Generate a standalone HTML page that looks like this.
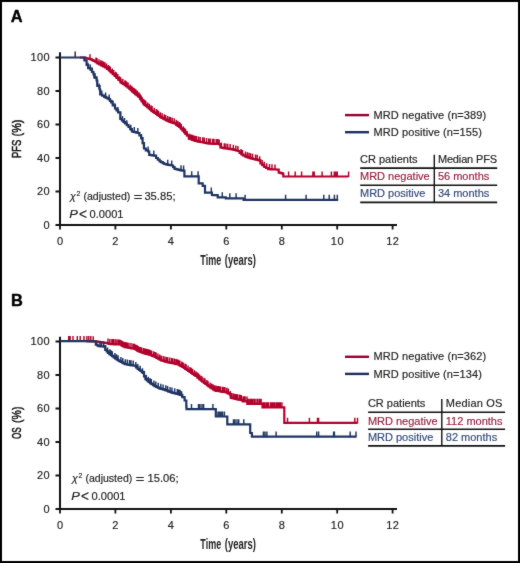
<!DOCTYPE html><html><head><meta charset="utf-8"><style>
html,body{margin:0;padding:0;background:#fff;}
svg{display:block;}
.t{font-family:"Liberation Sans",sans-serif;fill:#222;stroke:#222;stroke-width:0.16px;}
svg{font-size:11px;}
.b{font-family:"Liberation Sans",sans-serif;font-weight:bold;fill:#000;}
.c{font-family:"Liberation Sans",sans-serif;font-weight:bold;fill:#222;}
.d{font-family:"Liberation Sans",sans-serif;fill:#111;stroke:#111;stroke-width:0.5;}
</style></head><body>
<svg width="520" height="563" viewBox="0 0 520 563">
<defs><filter id="soft" x="0" y="0" width="520" height="563" filterUnits="userSpaceOnUse" color-interpolation-filters="sRGB"><feConvolveMatrix order="3" kernelMatrix="1 2 1 2 28 2 1 2 1" divisor="40" edgeMode="duplicate"/></filter></defs>
<g filter="url(#soft)">
<rect x="1" y="1" width="518" height="561" fill="#fff" stroke="#000" stroke-width="2"/>

<text x="10.7" y="22.4" class="b" font-size="16.4" stroke="#000" stroke-width="0.4">A</text>
<text x="10.9" y="305.6" class="b" font-size="16.4" stroke="#000" stroke-width="0.4">B</text>
<path d="M60 226.0V52.3" stroke="#111" stroke-width="2" fill="none"/><path d="M56 225.0H397" stroke="#111" stroke-width="2" fill="none"/><path d="M55.5 225.0H60M55.5 191.5H60M55.5 158.0H60M55.5 124.5H60M55.5 91.0H60M55.5 57.5H60M60.0 225.0V229.5M115.4 225.0V229.5M170.9 225.0V229.5M226.3 225.0V229.5M281.8 225.0V229.5M337.2 225.0V229.5M392.6 225.0V229.5" stroke="#111" stroke-width="1.8" fill="none"/><text x="50.1" y="228.8" text-anchor="end" class="t" letter-spacing="0.45">0</text><text x="50.1" y="195.3" text-anchor="end" class="t" letter-spacing="0.45">20</text><text x="50.1" y="161.8" text-anchor="end" class="t" letter-spacing="0.45">40</text><text x="50.1" y="128.3" text-anchor="end" class="t" letter-spacing="0.45">60</text><text x="50.1" y="94.8" text-anchor="end" class="t" letter-spacing="0.45">80</text><text x="50.1" y="61.3" text-anchor="end" class="t" letter-spacing="0.45">100</text><text x="60.2" y="244.6" text-anchor="middle" class="t" letter-spacing="0.45">0</text><text x="115.6" y="244.6" text-anchor="middle" class="t" letter-spacing="0.45">2</text><text x="171.1" y="244.6" text-anchor="middle" class="t" letter-spacing="0.45">4</text><text x="226.5" y="244.6" text-anchor="middle" class="t" letter-spacing="0.45">6</text><text x="282.0" y="244.6" text-anchor="middle" class="t" letter-spacing="0.45">8</text><text x="337.4" y="244.6" text-anchor="middle" class="t" letter-spacing="0.45">10</text><text x="392.8" y="244.6" text-anchor="middle" class="t" letter-spacing="0.45">12</text>
<path d="M80.0 57.5L83.6 57.5L84.8 57.5L84.8 57.9L86.0 57.9L86.0 58.3L87.5 58.3L87.5 58.7L89.0 58.7L89.0 59.0L90.5 59.0L90.5 59.4L92.0 59.4L92.0 60.2L93.5 60.2L93.5 61.0L95.5 61.0L95.5 62.2L97.4 62.2L97.4 63.4L99.3 63.4L99.3 64.5L101.2 64.5L101.2 65.5L103.2 65.5L103.2 66.5L105.1 66.5L105.1 67.4L107.0 67.4L107.0 69.0L108.9 69.0L108.9 70.5L110.8 70.5L110.8 72.3L112.8 72.3L112.8 74.2L114.7 74.2L114.7 76.0L116.6 76.0L116.6 77.8L118.5 77.8L118.5 80.0L120.5 80.0L120.5 82.3L121.8 82.3L121.8 83.2L123.0 83.2L123.0 84.0L124.6 84.0L124.6 85.1L126.1 85.1L126.1 86.2L127.7 86.2L127.7 87.3L129.2 87.3L129.2 88.7L130.8 88.7L130.8 90.2L132.3 90.2L132.3 91.6L133.8 91.6L133.8 93.0L135.2 93.0L135.2 94.1L136.7 94.1L136.7 95.2L138.1 95.2L138.1 96.3L140.0 96.3L140.0 98.8L141.6 98.8L141.6 101.2L143.1 101.2L143.1 103.5L144.4 103.5L144.4 104.8L145.8 104.8L145.8 106.0L147.2 106.0L147.2 107.2L148.7 107.2L148.7 108.3L150.1 108.3L150.1 109.5L151.5 109.5L151.5 110.8L152.9 110.8L152.9 111.8L154.4 111.8L154.4 112.9L155.9 112.9L155.9 113.8L157.3 113.8L157.3 114.8L158.8 114.8L158.8 116.0L160.2 116.0L160.2 117.2L161.6 117.2L161.6 118.0L163.1 118.0L163.1 118.7L164.6 118.7L164.6 119.5L166.0 119.5L166.0 120.3L167.8 120.3L167.8 121.1L169.6 121.1L169.6 121.9L171.2 121.9L171.2 122.4L172.8 122.4L172.8 123.0L174.4 123.0L174.4 123.5L176.0 123.5L176.0 124.6L177.6 124.6L177.6 125.8L179.2 125.8L179.2 126.9L180.8 126.9L180.8 128.6L182.4 128.6L182.4 130.4L184.0 130.4L184.0 132.1L185.4 132.1L185.4 133.8L186.9 133.8L186.9 135.5L188.8 135.5L188.8 138.6L190.4 138.6L190.4 139.2L192.1 139.2L192.1 139.9L193.7 139.9L193.7 140.5L195.3 140.5L195.3 140.9L196.9 140.9L196.9 141.3L198.5 141.3L198.5 141.7L200.1 141.7L200.1 142.0L201.7 142.0L201.7 142.2L203.3 142.2L203.3 142.5L204.7 142.5L204.7 142.8L206.2 142.8L206.2 143.1L207.6 143.1L207.6 143.3L209.0 143.3L209.0 143.6L210.9 143.6L210.9 143.7L212.7 143.7L212.7 143.8L214.6 143.8L214.6 143.9L216.1 143.9L216.1 144.0L217.5 144.0L217.5 144.0L219.0 144.0L219.0 144.1L220.4 144.1L220.4 147.5L222.3 147.5L222.3 147.9L224.2 147.9L224.2 148.3L225.7 148.3L225.7 148.5L227.3 148.5L227.3 148.7L228.8 148.7L228.8 148.9L230.4 148.9L230.4 149.1L231.9 149.1L231.9 149.3L233.8 149.3L233.8 150.0L235.8 150.0L235.8 150.5L237.7 150.5L237.7 151.0L239.6 151.0L239.6 152.8L241.5 152.8L241.5 154.5L243.4 154.5L243.4 155.6L245.4 155.6L245.4 156.6L246.9 156.6L246.9 157.1L248.3 157.1L248.3 157.7L249.8 157.7L249.8 158.2L251.4 158.2L251.4 158.6L253.0 158.6L253.0 159.0L254.6 159.0L254.6 159.4L256.2 159.4L256.2 159.7L257.8 159.7L257.8 160.1L259.4 160.1L259.4 160.4L260.4 160.4L260.4 163.5L262.3 163.5L262.3 165.2L264.2 165.2L264.2 166.8L266.1 166.8L266.1 168.0L268.1 168.0L268.1 169.2L269.5 169.2L269.5 169.2L271.0 169.2L271.0 169.3L272.4 169.3L272.4 169.3L273.8 169.3L273.8 169.4L275.4 169.4L275.4 169.5L277.1 169.5L277.1 169.6L278.7 169.6L278.7 169.7L278.7 172.6L280.6 172.6L280.6 173.1L282.5 173.1L282.5 173.6L283.3 173.6L283.3 173.8L283.3 176.5L348.6 176.5" fill="none" stroke="#b2002c" stroke-width="2.2" stroke-linejoin="miter" stroke-linecap="butt"/><path d="M90.0 59.9V54.2M96.0 63.1V57.4M97.0 63.7V58.0M99.0 64.9V59.2M100.8 65.9V60.2M102.0 66.5V60.8M103.5 67.2V61.5M104.9 67.9V62.2M106.6 69.3V63.6M108.5 70.8V65.1M109.5 71.6V65.9M110.3 72.4V66.7M112.3 74.3V68.6M113.7 75.6V69.9M115.5 77.4V71.7M116.4 78.2V72.5M117.8 79.8V74.1M119.6 81.8V76.2M120.7 83.0V77.3M122.8 84.5V78.8M124.9 85.9V80.2M125.7 86.5V80.8M126.6 87.1V81.4M128.1 88.3V82.6M130.2 90.3V84.6M131.6 91.5V85.8M132.7 92.6V86.9M134.1 93.8V88.1M134.9 94.5V88.8M136.0 95.3V89.6M137.4 96.4V90.7M138.9 98.0V92.3M140.1 99.5V93.8M141.2 101.2V95.5M142.3 102.9V97.2M143.7 104.7V99.0M144.9 105.8V100.1M145.8 106.6V100.9M147.7 108.1V102.4M149.3 109.5V103.8M151.0 111.0V105.3M152.1 111.8V106.1M154.3 113.4V107.7M156.3 114.7V109.0M157.2 115.4V109.7M158.5 116.4V110.7M160.3 117.9V112.2M162.1 118.8V113.1M164.2 119.9V114.2M165.6 120.7V115.0M167.6 121.6V115.9M169.3 122.4V116.7M170.5 122.8V117.1M172.2 123.4V117.7M174.2 124.0V118.3M176.2 125.4V119.7M177.7 126.4V120.7M179.3 127.6V121.9M180.2 128.5V122.8M181.3 129.8V124.1M183.2 131.9V126.2M184.6 133.4V127.7M185.6 134.6V128.9M187.2 136.6V130.9M189.0 139.3V133.6M190.7 140.0V134.3M192.1 140.5V134.8M193.5 141.0V135.3M195.0 141.4V135.7M196.5 141.8V136.1M198.5 142.3V136.6M200.2 142.6V136.9M202.7 143.0V137.3M204.3 143.3V137.6M206.6 143.7V138.0M208.7 144.1V138.4M210.2 144.3V138.6M212.5 144.4V138.7M214.0 144.5V138.8M216.2 144.6V138.9M217.7 144.6V138.9M219.2 145.3V139.6M221.4 148.3V142.6M224.3 148.9V143.2M225.9 149.1V143.4M227.7 149.4V143.7M230.2 149.7V144.0M233.3 150.4V144.7M235.8 151.1V145.4M237.9 151.8V146.1M241.1 154.7V149.0M242.5 155.7V150.0M245.5 157.2V151.5M247.4 157.9V152.2M249.1 158.5V152.8M250.7 159.0V153.3M252.6 159.5V153.8M255.5 160.2V154.5M257.2 160.5V154.8M259.7 161.9V156.2M262.2 165.7V160.0M264.3 167.5V161.8M266.7 168.9V163.2M269.5 169.8V164.1M272.0 169.9V164.2M275.0 170.1V164.4M288.6 177.1V171.4M295.2 177.1V171.4M301.6 177.1V171.4M312.9 177.1V171.4M314.2 177.1V171.4M322.1 177.1V171.4M331.4 177.1V171.4M334.3 177.1V171.4M335.8 177.1V171.4M337.3 177.1V171.4M348.6 177.1V171.4" fill="none" stroke="#b2002c" stroke-width="1.45"/>
<path d="M60.0 57.5L83.6 57.5L84.4 57.5L84.4 60.5L86.6 60.5L86.6 65.0L88.2 65.0L88.2 68.2L90.5 68.2L90.5 69.7L92.0 69.7L92.0 72.0L93.5 72.0L93.5 74.3L94.3 74.3L94.3 77.4L96.6 77.4L96.6 80.5L97.3 80.5L97.3 86.0L99.6 86.0L99.6 89.5L100.2 89.5L100.2 94.5L102.2 94.5L102.2 95.7L104.2 95.7L104.2 96.9L105.7 96.9L105.7 97.7L107.3 97.7L107.3 98.4L108.8 98.4L108.8 99.2L110.0 99.2L110.0 100.8L111.2 100.8L111.2 102.3L112.7 102.3L112.7 105.4L115.0 105.4L115.0 108.5L116.5 108.5L116.5 110.4L118.1 110.4L118.1 112.3L120.4 112.3L120.4 119.0L121.9 119.0L121.9 120.5L123.5 120.5L123.5 122.0L125.0 122.0L125.0 123.5L126.8 123.5L126.8 125.2L128.5 125.2L128.5 127.0L130.2 127.0L130.2 129.2L131.9 129.2L131.9 131.5L133.3 131.5L133.3 131.9L134.8 131.9L134.8 132.2L136.2 132.2L136.2 132.6L137.7 132.6L137.7 133.0L139.4 133.0L139.4 135.5L141.1 135.5L141.1 138.0L142.6 138.0L142.6 143.2L144.0 143.2L144.0 148.5L145.8 148.5L145.8 150.3L148.1 150.3L148.1 151.5L149.2 151.5L149.2 154.8L150.7 154.8L150.7 155.1L152.3 155.1L152.3 155.3L153.8 155.3L153.8 155.6L156.1 155.6L156.1 158.0L157.8 158.0L157.8 159.7L159.6 159.7L159.6 161.3L161.1 161.3L161.1 162.2L162.7 162.2L162.7 163.1L164.2 163.1L164.2 164.0L165.9 164.0L165.9 164.4L167.7 164.4L167.7 164.9L169.7 164.9L169.7 165.2L171.7 165.2L171.7 165.5L173.1 165.5L173.1 167.2L174.6 167.2L174.6 168.8L176.1 168.8L176.1 169.2L177.5 169.2L177.5 169.6L178.9 169.6L178.9 169.9L180.4 169.9L180.4 170.3L182.4 170.3L182.4 170.6L184.4 170.6L184.4 170.8L184.4 176.3L198.7 176.3L198.7 183.3L200.4 183.3L200.4 183.4L202.1 183.4L202.1 183.5L202.7 183.5L202.7 185.9L205.0 185.9L205.0 192.7L211.5 192.7L211.9 192.7L211.9 195.0L213.3 195.0L213.3 195.1L214.8 195.1L214.8 195.2L216.2 195.2L216.2 195.2L217.7 195.2L217.7 195.3L217.7 197.3L225.5 197.3L225.8 197.3L225.8 198.3L243.3 198.3L243.6 198.3L243.6 199.8L338.2 199.8" fill="none" stroke="#1f3463" stroke-width="2.2" stroke-linejoin="miter" stroke-linecap="butt"/><path d="M88.0 68.4V62.7M90.3 70.2V64.5M92.3 73.1V67.4M95.0 79.0V73.3M97.2 85.5V79.8M99.1 89.3V83.6M101.8 96.1V90.4M105.6 98.2V92.5M109.2 100.3V94.6M112.7 105.9V100.2M114.9 109.0V103.3M117.9 112.7V107.0M120.3 119.4V113.7M122.5 121.7V116.0M124.5 123.7V118.0M126.8 125.9V120.2M130.7 130.5V124.8M134.3 132.7V127.0M137.8 133.8V128.1M141.4 139.7V134.0M143.6 147.8V142.1M148.1 152.1V146.4M153.8 156.2V150.5M167.7 165.5V159.8M171.7 166.1V160.4M181.0 171.0V165.3M183.6 171.3V165.6M191.7 176.9V171.2M198.1 176.9V171.2M211.3 193.3V187.6M222.3 197.9V192.2M229.8 198.9V193.2M236.1 198.9V193.2M245.1 200.4V194.7M285.6 200.4V194.7M306.1 200.4V194.7M323.8 200.4V194.7M329.2 200.4V194.7M334.4 200.4V194.7M337.3 200.4V194.7" fill="none" stroke="#1f3463" stroke-width="1.45"/>
<path d="M75.2 57.5V51.6" stroke="#4a1f3c" stroke-width="1.5"/>
<g transform="translate(21.3,157.7) rotate(-90)"><text x="-0.4" y="0" class="d" font-size="13.6" textLength="18.5" lengthAdjust="spacingAndGlyphs">PFS</text><text x="21.3" y="0" class="d" font-size="13.6" textLength="16.8" lengthAdjust="spacingAndGlyphs">(%)</text></g>
<text x="200.3" y="264.5" class="c" font-size="14.8" textLength="20.9" lengthAdjust="spacingAndGlyphs">Time</text>
<text x="224.8" y="264.5" class="c" font-size="14.8" textLength="31.2" lengthAdjust="spacingAndGlyphs">(years)</text>
<text x="70.0" y="200.3" class="t" font-style="italic" font-size="10.6">&#967;</text>
<text x="76.4" y="195.7" class="t" font-size="6.9">2</text>
<text x="83.4" y="200.3" class="t" textLength="46.9" lengthAdjust="spacingAndGlyphs">(adjusted)</text>
<text x="133.6" y="201.1" class="t" font-size="13" textLength="9.0" lengthAdjust="spacingAndGlyphs">=</text>
<text x="144.4" y="200.3" class="t" font-size="11.2">35.85;</text>
<text x="69.3" y="218.0" class="t" font-style="italic" font-size="11.2" textLength="8.6" lengthAdjust="spacingAndGlyphs">P</text>
<text x="78.9" y="218.8" class="t" font-size="14" textLength="8.0" lengthAdjust="spacingAndGlyphs">&lt;</text>
<text x="89.6" y="218.0" class="t" font-size="11.1">0.0001</text>
<path d="M345 115.1H369" stroke="#980030" stroke-width="2.4"/>
<path d="M345 132.2H369" stroke="#1d2d5c" stroke-width="2.4"/>
<text x="373.6" y="118.5" class="t" letter-spacing="0.08">MRD negative (n=389)</text>
<text x="373.6" y="135.9" class="t" letter-spacing="0.08">MRD positive (n=155)</text>
<path d="M360.2 168.1H497.2M360.2 185.3H497.2M360.2 202.4H497.2" stroke="#111" stroke-width="1.6"/>
<path d="M434.3 154.8V202.4" stroke="#111" stroke-width="1.4"/>
<text x="360.0" y="163.2" class="t">CR patients</text>
<text x="437.9" y="163.2" class="t" letter-spacing="-0.15">Median PFS</text>
<text x="360.0" y="180.3" class="t" style="fill:#9a2040;stroke:#9a2040">MRD negative</text>
<text x="437.9" y="180.3" class="t" style="fill:#9a2040;stroke:#9a2040">56 months</text>
<text x="360.0" y="197.2" class="t" style="fill:#34497a;stroke:#34497a">MRD positive</text>
<text x="437.9" y="197.2" class="t" style="fill:#34497a;stroke:#34497a">34 months</text>
<path d="M60 510.0V336.7" stroke="#111" stroke-width="2" fill="none"/><path d="M56 509.0H397" stroke="#111" stroke-width="2" fill="none"/><path d="M55.5 509.0H60M55.5 475.5H60M55.5 442.0H60M55.5 408.5H60M55.5 375.0H60M55.5 341.5H60M60.0 509.0V513.5M115.4 509.0V513.5M170.9 509.0V513.5M226.3 509.0V513.5M281.8 509.0V513.5M337.2 509.0V513.5M392.6 509.0V513.5" stroke="#111" stroke-width="1.8" fill="none"/><text x="50.1" y="512.8" text-anchor="end" class="t" letter-spacing="0.45">0</text><text x="50.1" y="479.3" text-anchor="end" class="t" letter-spacing="0.45">20</text><text x="50.1" y="445.8" text-anchor="end" class="t" letter-spacing="0.45">40</text><text x="50.1" y="412.3" text-anchor="end" class="t" letter-spacing="0.45">60</text><text x="50.1" y="378.8" text-anchor="end" class="t" letter-spacing="0.45">80</text><text x="50.1" y="345.3" text-anchor="end" class="t" letter-spacing="0.45">100</text><text x="60.2" y="528.6" text-anchor="middle" class="t" letter-spacing="0.45">0</text><text x="115.6" y="528.6" text-anchor="middle" class="t" letter-spacing="0.45">2</text><text x="171.1" y="528.6" text-anchor="middle" class="t" letter-spacing="0.45">4</text><text x="226.5" y="528.6" text-anchor="middle" class="t" letter-spacing="0.45">6</text><text x="282.0" y="528.6" text-anchor="middle" class="t" letter-spacing="0.45">8</text><text x="337.4" y="528.6" text-anchor="middle" class="t" letter-spacing="0.45">10</text><text x="392.8" y="528.6" text-anchor="middle" class="t" letter-spacing="0.45">12</text>
<path d="M88.0 341.2L89.4 341.2L89.4 341.2L90.8 341.2L90.8 341.2L92.3 341.2L92.3 341.3L93.7 341.3L93.7 341.3L95.3 341.3L95.3 341.4L96.8 341.4L96.8 341.6L98.3 341.6L98.3 341.9L99.8 341.9L99.8 342.1L101.4 342.1L101.4 342.3L102.9 342.3L102.9 342.5L104.4 342.5L104.4 342.8L105.9 342.8L105.9 343.0L107.5 343.0L107.5 343.5L109.0 343.5L109.0 344.0L110.7 344.0L110.7 344.1L112.3 344.1L112.3 344.2L114.0 344.2L114.0 344.3L115.7 344.3L115.7 344.3L117.4 344.3L117.4 344.4L119.0 344.4L119.0 344.5L120.7 344.5L120.7 344.6L121.7 344.6L121.7 345.6L123.3 345.6L123.3 346.4L124.9 346.4L124.9 347.2L126.5 347.2L126.5 347.5L128.1 347.5L128.1 347.7L129.7 347.7L129.7 348.0L131.2 348.0L131.2 348.3L132.8 348.3L132.8 348.5L134.4 348.5L134.4 348.8L135.8 348.8L135.8 349.7L137.3 349.7L137.3 350.6L138.7 350.6L138.7 351.5L140.3 351.5L140.3 352.0L141.8 352.0L141.8 352.6L143.4 352.6L143.4 353.1L145.0 353.1L145.0 353.6L146.4 353.6L146.4 353.9L147.8 353.9L147.8 354.3L149.2 354.3L149.2 354.6L150.6 354.6L150.6 355.2L152.1 355.2L152.1 355.8L153.6 355.8L153.6 356.4L155.0 356.4L155.0 357.0L156.4 357.0L156.4 357.8L157.9 357.8L157.9 358.6L159.4 358.6L159.4 359.5L160.8 359.5L160.8 360.3L162.2 360.3L162.2 360.7L163.7 360.7L163.7 361.1L165.1 361.1L165.1 361.6L166.5 361.6L166.5 362.0L167.9 362.0L167.9 362.3L169.4 362.3L169.4 362.6L170.9 362.6L170.9 362.9L172.3 362.9L172.3 363.2L173.8 363.2L173.8 363.5L175.2 363.5L175.2 363.9L176.7 363.9L176.7 364.2L178.1 364.2L178.1 364.5L179.5 364.5L179.5 365.3L180.9 365.3L180.9 366.1L182.4 366.1L182.4 367.0L183.8 367.0L183.8 367.8L185.2 367.8L185.2 368.8L186.7 368.8L186.7 369.8L188.2 369.8L188.2 370.8L189.6 370.8L189.6 371.8L191.1 371.8L191.1 372.8L192.5 372.8L192.5 373.9L193.9 373.9L193.9 374.9L195.4 374.9L195.4 375.9L197.4 375.9L197.4 377.6L199.4 377.6L199.4 379.4L200.9 379.4L200.9 380.5L202.4 380.5L202.4 381.7L203.9 381.7L203.9 382.9L205.4 382.9L205.4 384.0L206.9 384.0L206.9 385.2L208.5 385.2L208.5 386.3L210.0 386.3L210.0 387.5L211.5 387.5L211.5 388.5L213.1 388.5L213.1 389.5L214.6 389.5L214.6 390.5L216.1 390.5L216.1 390.8L217.5 390.8L217.5 391.0L218.9 391.0L218.9 391.2L220.4 391.2L220.4 391.5L221.8 391.5L221.8 391.8L223.2 391.8L223.2 392.0L224.7 392.0L224.7 392.2L226.1 392.2L226.1 392.5L227.8 392.5L227.8 393.4L229.6 393.4L229.6 394.2L230.8 394.2L230.8 397.8L232.3 397.8L232.3 398.2L233.9 398.2L233.9 398.6L235.4 398.6L235.4 399.0L236.9 399.0L236.9 399.3L238.4 399.3L238.4 399.6L240.0 399.6L240.0 399.9L241.5 399.9L241.5 400.2L242.7 400.2L242.7 401.3L244.2 401.3L244.2 401.4L245.8 401.4L245.8 401.4L247.3 401.4L247.3 401.5L247.3 403.8L262.5 403.8L262.5 407.3L284.0 407.3L284.3 407.3L284.3 422.8L357.5 422.8" fill="none" stroke="#b2002c" stroke-width="2.2" stroke-linejoin="miter" stroke-linecap="butt"/><path d="M68.7 341.8V336.1M70.1 341.8V336.1M73.0 341.8V336.1M77.3 341.8V336.1M80.2 341.8V336.1M84.0 341.8V336.1M86.9 341.8V336.1M88.8 341.8V336.1M90.8 341.8V336.1M93.2 341.9V336.2M108.0 344.3V338.6M109.9 344.6V338.9M111.9 344.7V339.0M112.7 344.8V339.1M113.5 344.8V339.1M115.2 344.9V339.2M116.9 345.0V339.3M118.5 345.1V339.4M119.6 345.1V339.4M121.1 345.6V339.9M122.5 346.6V340.9M124.0 347.4V341.7M124.9 347.8V342.1M126.2 348.0V342.3M127.4 348.2V342.5M129.0 348.5V342.8M131.0 348.8V343.1M132.9 349.2V343.5M134.4 349.4V343.7M135.6 350.2V344.5M136.7 350.8V345.1M137.4 351.3V345.6M138.2 351.8V346.1M139.5 352.4V346.7M140.6 352.7V347.0M141.8 353.1V347.4M143.6 353.7V348.0M145.0 354.2V348.5M146.4 354.5V348.8M147.5 354.8V349.1M148.2 355.0V349.3M149.3 355.2V349.5M150.2 355.6V349.9M151.6 356.2V350.5M153.6 357.0V351.3M155.1 357.7V352.0M156.1 358.2V352.5M157.9 359.3V353.6M159.7 360.3V354.6M161.3 361.1V355.4M163.2 361.6V355.9M164.9 362.1V356.4M166.6 362.6V356.9M167.8 362.9V357.2M169.8 363.3V357.6M171.7 363.7V358.0M172.6 363.9V358.2M174.3 364.2V358.5M175.9 364.6V358.9M177.2 364.9V359.2M178.6 365.4V359.7M179.9 366.2V360.5M181.8 367.3V361.6M183.2 368.1V362.4M185.0 369.2V363.5M186.1 370.0V364.3M188.0 371.3V365.6M189.9 372.6V366.9M191.2 373.5V367.8M192.6 374.5V368.8M194.5 375.9V370.2M196.1 377.1V371.4M197.5 378.3V372.6M198.4 379.2V373.5M199.6 380.1V374.4M201.2 381.4V375.7M202.1 382.1V376.4M204.0 383.5V377.8M205.0 384.3V378.6M206.9 385.7V380.0M208.0 386.6V380.9M210.0 388.1V382.4M211.6 389.1V383.4M212.9 390.0V384.3M214.3 390.9V385.2M215.8 391.3V385.6M217.3 391.6V385.9M218.4 391.8V386.1M219.4 391.9V386.2M220.8 392.2V386.5M222.7 392.5V386.8M224.2 392.8V387.1M225.0 392.9V387.2M226.8 393.4V387.7M228.4 394.2V388.5M230.3 396.8V391.1M231.2 398.5V392.8M232.9 398.9V393.2M233.7 399.1V393.4M235.2 399.6V393.9M236.3 399.8V394.1M237.3 400.0V394.3M239.1 400.3V394.6M239.9 400.5V394.8M241.3 400.8V395.1M243.1 401.9V396.2M244.2 402.0V396.3M245.1 402.0V396.3M247.0 402.1V396.4M248.2 404.4V398.7M249.8 404.4V398.7M250.6 404.4V398.7M251.8 404.4V398.7M252.7 404.4V398.7M254.3 404.4V398.7M255.1 404.4V398.7M257.0 404.4V398.7M257.7 404.4V398.7M259.4 404.4V398.7M260.1 404.4V398.7M261.1 404.4V398.7M262.9 407.9V402.2M263.8 407.9V402.2M264.8 407.9V402.2M266.4 407.9V402.2M267.6 407.9V402.2M268.3 407.9V402.2M270.3 407.9V402.2M271.2 407.9V402.2M271.9 407.9V402.2M273.1 407.9V402.2M274.6 407.9V402.2M276.2 407.9V402.2M277.1 407.9V402.2M278.2 407.9V402.2M279.0 407.9V402.2M280.3 407.9V402.2M281.9 407.9V402.2M287.5 423.4V417.7M309.4 423.4V417.7M317.5 423.4V417.7M318.6 423.4V417.7M354.8 423.4V417.7M357.5 423.4V417.7" fill="none" stroke="#b2002c" stroke-width="1.45"/>
<path d="M60.0 341.1L61.6 341.1L61.6 341.1L63.2 341.1L63.2 341.1L64.7 341.1L64.7 341.1L66.3 341.1L66.3 341.1L67.9 341.1L67.9 341.1L69.5 341.1L69.5 341.2L71.1 341.2L71.1 341.2L72.7 341.2L72.7 341.2L74.2 341.2L74.2 341.2L75.8 341.2L75.8 341.2L77.4 341.2L77.4 341.2L79.0 341.2L79.0 341.2L80.6 341.2L80.6 341.2L82.1 341.2L82.1 341.2L83.7 341.2L83.7 341.2L85.3 341.2L85.3 341.2L86.9 341.2L86.9 341.3L88.5 341.3L88.5 341.3L90.1 341.3L90.1 341.3L91.6 341.3L91.6 341.3L93.2 341.3L93.2 341.3L94.8 341.3L94.8 341.3L95.8 341.3L95.8 344.6L97.2 344.6L97.2 345.4L98.5 345.4L98.5 346.2L100.3 346.2L100.3 346.4L102.0 346.4L102.0 346.5L103.8 346.5L103.8 346.7L105.3 346.7L105.3 349.9L106.7 349.9L106.7 351.4L108.0 351.4L108.0 353.0L109.4 353.0L109.4 354.1L110.8 354.1L110.8 355.1L112.2 355.1L112.2 356.2L113.6 356.2L113.6 357.3L115.1 357.3L115.1 358.3L116.5 358.3L116.5 359.4L117.9 359.4L117.9 360.3L119.3 360.3L119.3 361.1L120.7 361.1L120.7 362.0L122.1 362.0L122.1 362.7L123.5 362.7L123.5 363.5L124.9 363.5L124.9 364.2L126.7 364.2L126.7 364.5L128.4 364.5L128.4 364.9L130.2 364.9L130.2 365.2L131.6 365.2L131.6 365.4L133.0 365.4L133.0 365.5L134.4 365.5L134.4 365.7L136.0 365.7L136.0 367.3L137.6 367.3L137.6 368.9L139.0 368.9L139.0 370.0L140.5 370.0L140.5 371.0L141.9 371.0L141.9 372.1L144.0 372.1L144.0 376.3L145.4 376.3L145.4 379.2L146.9 379.2L146.9 380.5L148.5 380.5L148.5 381.9L150.0 381.9L150.0 383.2L151.5 383.2L151.5 384.2L153.1 384.2L153.1 385.1L154.6 385.1L154.6 386.1L156.1 386.1L156.1 386.9L157.7 386.9L157.7 387.6L159.2 387.6L159.2 388.4L160.6 388.4L160.6 388.8L162.1 388.8L162.1 389.2L163.6 389.2L163.6 389.7L165.0 389.7L165.0 390.1L166.5 390.1L166.5 390.7L168.1 390.7L168.1 391.3L169.6 391.3L169.6 391.9L171.1 391.9L171.1 392.3L172.5 392.3L172.5 392.8L173.9 392.8L173.9 393.2L175.4 393.2L175.4 393.6L176.9 393.6L176.9 394.0L178.5 394.0L178.5 394.4L180.0 394.4L180.0 394.8L182.3 394.8L182.3 397.1L184.6 397.1L184.6 400.5L186.3 400.5L186.3 406.3L186.5 406.3L186.5 409.1L215.5 409.1L215.8 409.1L215.8 416.5L227.3 416.5L227.3 424.4L249.8 424.4L250.2 424.4L250.2 433.0L251.9 433.0L251.9 433.2L251.9 436.7L356.3 436.7" fill="none" stroke="#1f3463" stroke-width="2.2" stroke-linejoin="miter" stroke-linecap="butt"/><path d="M100.0 346.9V341.2M101.6 347.1V341.4M103.7 347.3V341.6M105.4 350.7V345.0M107.6 353.2V347.5M109.8 355.0V349.3M111.1 356.0V350.3M112.3 356.9V351.2M114.9 358.8V353.1M116.5 360.0V354.3M118.1 361.0V355.3M120.9 362.7V357.0M122.8 363.7V358.0M125.3 364.9V359.2M127.3 365.3V359.6M129.5 365.7V360.0M131.0 365.9V360.2M133.2 366.2V360.5M135.8 367.7V362.0M137.8 369.7V364.0M140.2 371.4V365.7M142.5 373.9V368.2M143.8 376.5V370.8M146.2 380.5V374.8M148.3 382.4V376.7M150.0 383.8V378.1M151.3 384.6V378.9M153.9 386.2V380.5M155.8 387.3V381.6M158.2 388.5V382.8M160.8 389.5V383.8M163.1 390.1V384.4M165.8 391.0V385.3M167.6 391.7V386.0M170.1 392.6V386.9M172.0 393.2V387.5M174.7 394.0V388.3M177.3 394.7V389.0M178.7 395.1V389.4M180.1 395.5V389.8M181.6 397.0V391.3M191.5 409.7V404.0M198.5 409.7V404.0M200.0 409.7V404.0M202.0 409.7V404.0M203.6 409.7V404.0M212.9 409.7V404.0M218.0 417.1V411.4M219.5 417.1V411.4M221.0 417.1V411.4M222.5 417.1V411.4M224.4 417.1V411.4M233.5 425.0V419.3M235.0 425.0V419.3M237.0 425.0V419.3M238.7 425.0V419.3M243.8 425.0V419.3M263.4 437.3V431.6M265.0 437.3V431.6M266.9 437.3V431.6M276.1 437.3V431.6M316.7 437.3V431.6M318.6 437.3V431.6M333.6 437.3V431.6M334.4 437.3V431.6M350.2 437.3V431.6M356.0 437.3V431.6" fill="none" stroke="#1f3463" stroke-width="1.45"/>
<g transform="translate(21.3,438.7) rotate(-90)"><text x="-0.4" y="0" class="d" font-size="13.6" textLength="11.9" lengthAdjust="spacingAndGlyphs">OS</text><text x="15.8" y="0" class="d" font-size="13.6" textLength="16.4" lengthAdjust="spacingAndGlyphs">(%)</text></g>
<text x="200.3" y="549.1" class="c" font-size="14.8" textLength="20.9" lengthAdjust="spacingAndGlyphs">Time</text>
<text x="224.8" y="549.1" class="c" font-size="14.8" textLength="31.2" lengthAdjust="spacingAndGlyphs">(years)</text>
<text x="72.0" y="482.3" class="t" font-style="italic" font-size="10.6">&#967;</text>
<text x="78.4" y="477.7" class="t" font-size="6.9">2</text>
<text x="85.4" y="482.3" class="t" textLength="46.9" lengthAdjust="spacingAndGlyphs">(adjusted)</text>
<text x="135.6" y="483.1" class="t" font-size="13" textLength="9.0" lengthAdjust="spacingAndGlyphs">=</text>
<text x="147.5" y="482.3" class="t" font-size="11.2">15.06;</text>
<text x="71.3" y="500.0" class="t" font-style="italic" font-size="11.2" textLength="8.6" lengthAdjust="spacingAndGlyphs">P</text>
<text x="80.9" y="500.8" class="t" font-size="14" textLength="8.0" lengthAdjust="spacingAndGlyphs">&lt;</text>
<text x="91.6" y="500.0" class="t" font-size="11.1">0.0001</text>
<path d="M345 356.8H369" stroke="#980030" stroke-width="2.4"/>
<path d="M345 373.9H369" stroke="#1d2d5c" stroke-width="2.4"/>
<text x="373.6" y="360.2" class="t" letter-spacing="0.08">MRD negative (n=362)</text>
<text x="373.6" y="377.6" class="t" letter-spacing="0.08">MRD positive (n=134)</text>
<path d="M368.1 412.3H505.1M368.1 429.2H505.1M368.1 445.9H505.1" stroke="#111" stroke-width="1.6"/>
<path d="M441.8 399.0V445.9" stroke="#111" stroke-width="1.4"/>
<text x="367.9" y="407.4" class="t">CR patients</text>
<text x="445.8" y="407.4" class="t" letter-spacing="0.20">Median OS</text>
<text x="367.9" y="424.5" class="t" style="fill:#9a2040;stroke:#9a2040">MRD negative</text>
<text x="445.8" y="424.5" class="t" style="fill:#9a2040;stroke:#9a2040">112 months</text>
<text x="367.9" y="441.4" class="t" style="fill:#34497a;stroke:#34497a">MRD positive</text>
<text x="445.8" y="441.4" class="t" style="fill:#34497a;stroke:#34497a">82 months</text>
</g></svg></body></html>
